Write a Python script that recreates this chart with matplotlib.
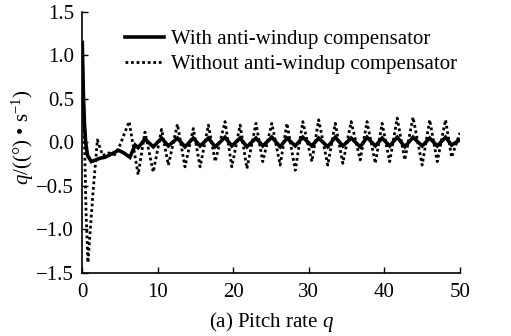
import matplotlib
matplotlib.use("Agg")
import matplotlib.pyplot as plt

# ---- data ----
# Without anti-windup compensator (dotted)
t_without = [0.0, 0.3, 0.5, 0.75, 1.4, 2.0, 2.7, 3.5, 4.3, 4.9,
             6.2, 7.4, 8.3, 9.4, 10.5, 11.4, 12.6, 13.6, 14.7, 15.6,
             16.7, 17.6, 18.9, 19.8, 20.9, 21.8, 23.0, 23.9, 25.1, 26.2,
             27.1, 28.2, 29.2, 30.4, 31.3, 32.5, 33.5, 34.5, 35.6, 36.8,
             37.7, 38.8, 39.7, 40.7, 41.7, 42.7, 43.8, 45.0, 46.0, 47.0,
             48.1, 48.9, 50.0]
q_without = [1.10, 0.00, -0.80, -1.38, -0.60, 0.03, -0.15, -0.12, -0.14, -0.05,
             0.24, -0.37, 0.12, -0.34, 0.15, -0.26, 0.21, -0.28, 0.16, -0.28,
             0.20, -0.22, 0.24, -0.28, 0.20, -0.30, 0.22, -0.22, 0.22, -0.26,
             0.22, -0.32, 0.24, -0.22, 0.26, -0.26, 0.22, -0.24, 0.24, -0.20,
             0.24, -0.24, 0.22, -0.22, 0.28, -0.20, 0.29, -0.26, 0.26, -0.22,
             0.26, -0.17, 0.11]

# With anti-windup compensator (solid)
t_with = [0.0, 0.15, 0.3, 0.45, 0.7, 1.2, 2.4, 3.0, 3.7, 4.8, 5.5, 6.3,
          7.0, 7.4, 8.3, 9.4, 10.5, 11.4, 12.6, 13.6, 14.7, 15.6,
          16.7, 17.6, 18.9, 19.8, 20.9, 21.8, 23.0, 23.9, 25.1, 26.2,
          27.1, 28.2, 29.2, 30.4, 31.3, 32.5, 33.5, 34.5, 35.6, 36.8,
          37.7, 38.8, 39.7, 40.7, 41.7, 42.7, 43.8, 45.0, 46.0, 47.0,
          48.1, 48.9, 50.0]
q_with = [1.15, 0.55, 0.20, 0.00, -0.15, -0.22, -0.18, -0.17, -0.14, -0.09, -0.12, -0.17,
          -0.03, -0.06, 0.04, -0.05, 0.05, -0.04, 0.05, -0.05, 0.05, -0.04,
          0.05, -0.05, 0.06, -0.04, 0.05, -0.05, 0.05, -0.04, 0.06, -0.05,
          0.05, -0.04, 0.06, -0.04, 0.05, -0.05, 0.06, -0.04, 0.05, -0.05,
          0.06, -0.04, 0.05, -0.04, 0.06, -0.05, 0.06, -0.04, 0.05, -0.04,
          0.06, -0.03, 0.03]

x_ticks = [0, 10, 20, 30, 40, 50]
y_ticks = [-1.5, -1.0, -0.5, 0.0, 0.5, 1.0, 1.5]
y_tick_labels = ["\u22121.5", "\u22121.0", "\u22120.5", "0.0", "0.5", "1.0", "1.5"]
legend_labels = ["With anti-windup compensator", "Without anti-windup compensator"]

plt.rcParams['font.family'] = ['Liberation Serif', 'DejaVu Serif']
plt.rcParams['mathtext.fontset'] = 'custom'
plt.rcParams['mathtext.it'] = 'Liberation Serif:italic'
plt.rcParams['mathtext.rm'] = 'Liberation Serif'

FS = 15

fig = plt.figure(figsize=(5.11, 3.36), dpi=100)
ax = fig.add_axes([0.161, 0.1875, 0.739, 0.777])

ax.plot(t_with, q_with, color='black', lw=2.6, solid_joinstyle='miter',
        label=legend_labels[0])
ax.plot(t_without, q_without, color='black', lw=2.0, linestyle=(0, (1, 1)),
        label=legend_labels[1])

ax.set_xlim(0, 50)
ax.set_ylim(-1.5, 1.5)
ax.set_xticks(x_ticks)
ax.set_yticks(y_ticks)
ax.set_yticklabels(y_tick_labels)
ax.tick_params(direction='in', length=4, width=1, labelsize=FS)
ax.tick_params(axis='x', pad=7)
ax.tick_params(axis='y', pad=6)
for s in ['top', 'right']:
    ax.spines[s].set_visible(False)
for s in ['left', 'bottom']:
    ax.spines[s].set_linewidth(1.2)

ax.set_xlabel(r'(a) Pitch rate $q$', fontsize=FS, labelpad=6)
ax.set_ylabel(r'$q$/((°) • s$^{-1}$)', fontsize=FS, labelpad=0, y=0.52)

leg = ax.legend(loc='upper left', bbox_to_anchor=(0.068, 0.995), frameon=False,
                fontsize=FS, handlelength=1.9, handletextpad=0.35,
                labelspacing=0.25, borderpad=0.3)

fig.savefig('out.png', dpi=100)
